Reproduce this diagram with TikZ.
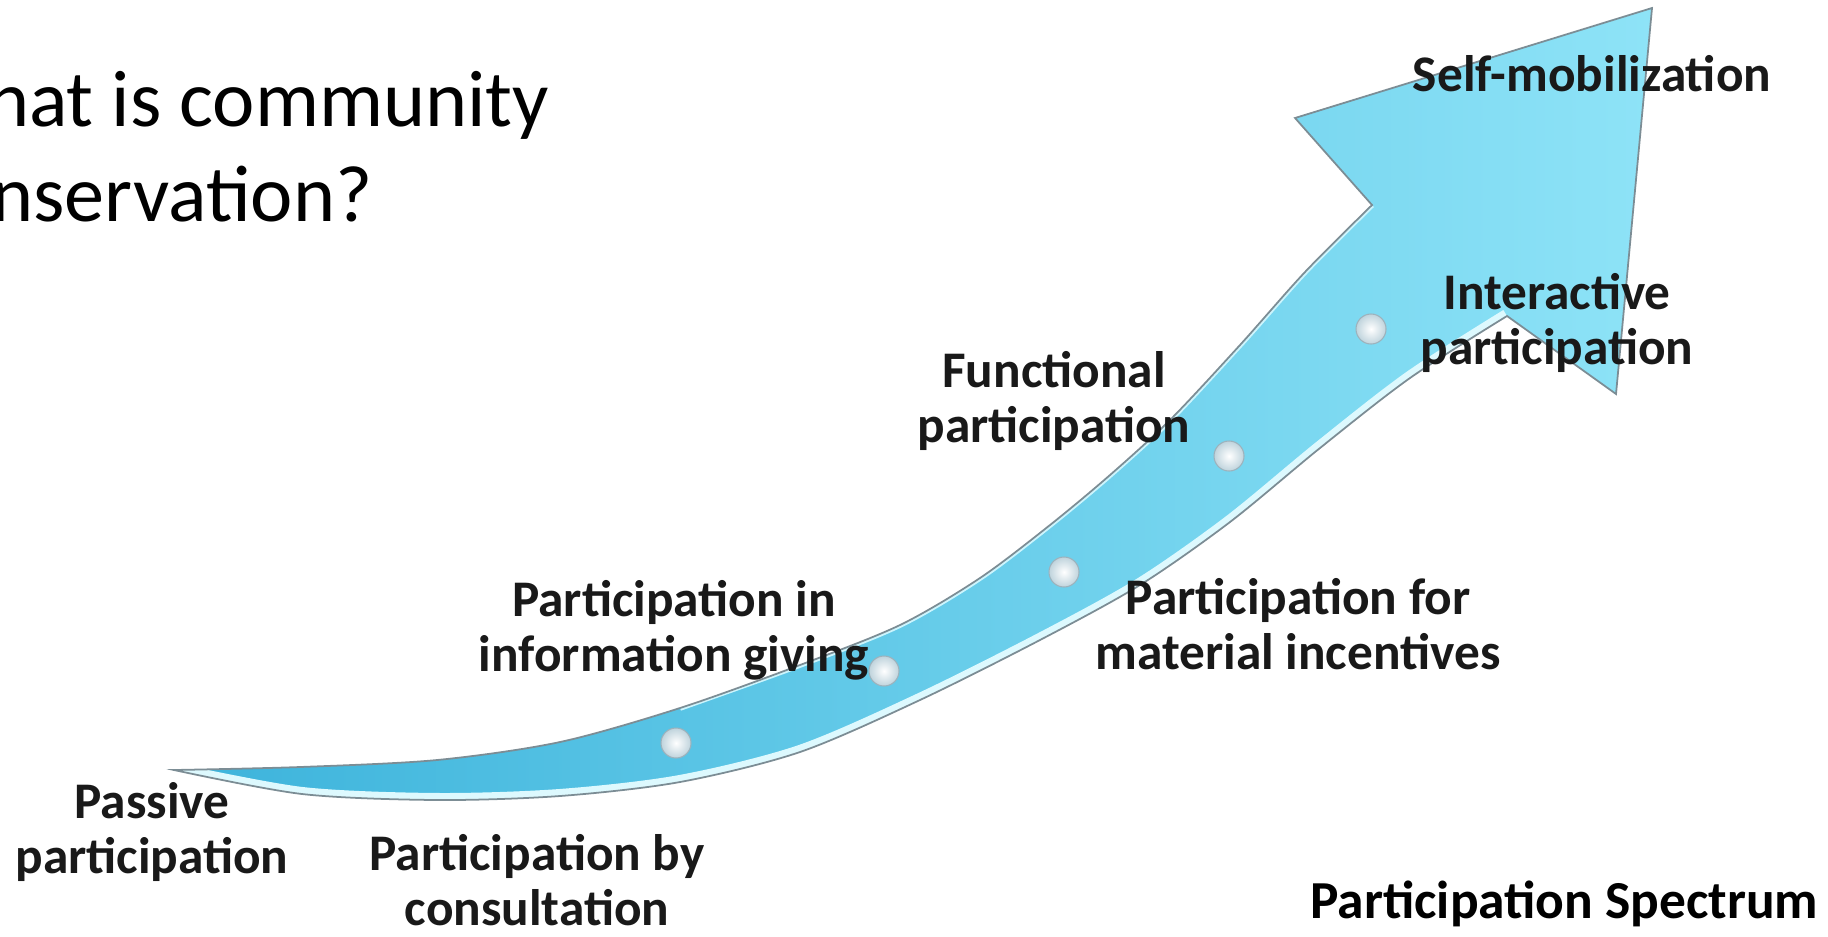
\documentclass[tikz,border=0pt]{standalone}
\usepackage{fontspec}
\setmainfont{Carlito}
\usepackage{xcolor}
\usepackage{tikz}
\usetikzlibrary{positioning,calc}

\definecolor{arrowdark}{HTML}{3CB3DB}
\definecolor{arrowlight}{HTML}{8EE3F7}
\definecolor{rimcol}{HTML}{DDF9FE}
\definecolor{edgegray}{HTML}{7C8D95}
\definecolor{studedge}{HTML}{9DB2BC}
\definecolor{studshade}{HTML}{BFD3DC}
\newcommand{\stagefont}{\fontsize{14.6pt}{15.4pt}\selectfont\bfseries}

% outline of the curved arrow (pixel units, y downwards)
\def\arrowpath{plot[smooth] coordinates {(174,770) (300,767) (437,760) (560,742) (680,708) (800,665) (900,625) (980,578) (1050,525) (1110,475) (1170,420) (1240,345) (1305,272) (1372,205)}
  -- (1295,118) -- (1652,8) -- (1616,394) -- (1507,316)
  -- plot[smooth] coordinates {(1507,316) (1410,378) (1320,448) (1230,522) (1140,585) (1040,640) (920,700) (800,752) (680,782) (560,796) (437,800) (302,794) (174,770)} -- cycle}

\begin{document}
\begin{tikzpicture}[x=0.01cm, y=-0.01cm,
  stage/.style={font=\stagefont, align=center, anchor=base, inner sep=0pt, text=black!90},
  stud/.style={circle, minimum size=0.3cm, inner sep=0pt, draw=studedge, line width=0.3pt, inner color=white, outer color=studshade},
  rim/.style={draw=rimcol, line width=4pt}]
\useasboundingbox (0,0) rectangle (1828,936);
\clip (0,0) rectangle (1828,936);

% Arrow
\shade[left color=arrowdark, right color=arrowlight] \arrowpath;
\begin{scope}
\clip \arrowpath;
\draw[rim] plot[smooth] coordinates {(174,770) (302,794) (437,800) (560,796) (680,782) (800,752) (920,700) (1040,640) (1140,585) (1230,522) (1320,448) (1410,378) (1507,316)};
\draw[rim, line width=1.6pt, draw=rimcol!80!arrowlight] plot[smooth] coordinates {(680,708) (800,665) (900,625) (980,578) (1050,525) (1110,475) (1170,420) (1240,345) (1305,272) (1372,205)};
\end{scope}
\draw[edgegray, line width=0.5pt] \arrowpath;

% Steps on the arrow
\node[stud] (s1) at (676,743) {};
\node[stud] (s2) at (884,671) {};
\node[stud] (s3) at (1064,572) {};
\node[stud] (s4) at (1229,456) {};
\node[stud] (s5) at (1371,329) {};

% Labels (base = last line)
\node[stage] (passive) at (152,873) {Passive\\participation};
\node[stage] (consult) at (537,925) {Participation by\\consultation};
\node[stage] (info) at (674,671) {Participation in\\information giving};
\node[stage] (material) at (1298,669) {Participation for\\material incentives};
\node[stage] (functional) at (1054,442) {Functional\\participation};
\node[stage] (interactive) at (1557,364) {Interactive\\participation};
\node[stage] (selfmob) at (1592,91) {Self-mobilization};

% Slide title and caption
\node[anchor=base west, align=left, inner sep=0pt, font=\fontsize{22.8pt}{26.8pt}\selectfont] (title) at (-85,221) {What is community\\conservation?};
\node[anchor=base east, inner sep=0pt, font=\fontsize{15.2pt}{16pt}\selectfont\bfseries] (spectrum) at (1819,918) {Participation Spectrum};
\end{tikzpicture}
\end{document}
